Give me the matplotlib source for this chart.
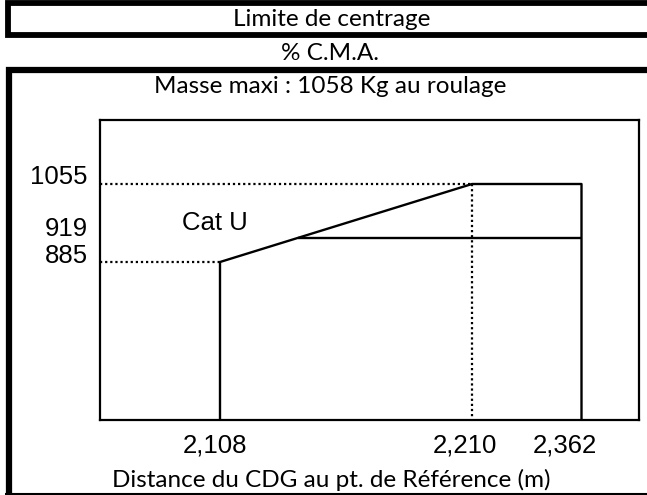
import numpy as np
import matplotlib
matplotlib.use("Agg")
import matplotlib.pyplot as plt
from matplotlib.lines import Line2D

# Données du diagramme de centrage (bras de levier en m, masse en kg)
CG_LIMITS = [2.108, 2.210, 2.362]          # avant, point haut, arrière
CG_LABELS = ["2,108", "2,210", "2,362"]
MASSES = [885, 919, 1055]                  # bas, Cat U, maxi
MASS_LABELS = ["885", "919", "1055"]

TITLE = "Limite de centrage"
SUBTITLE = "% C.M.A."
HEADER = "Masse maxi : 1058 Kg au roulage"
XLABEL = "Distance du CDG au pt. de Référence (m)"
CAT_LABEL = "Cat U"


# Mise en page (pixels de la figure 647x495)
class Layout:
    W, H = 647, 495
    AX_LEFT, AX_RIGHT, AX_TOP, AX_BOTTOM = 100, 639, 120, 420
    # échelle du schéma (non linéaire) : valeur -> pixel dans l'axe
    X_KNOTS = [2.06, 2.108, 2.210, 2.362, 2.44]
    X_PIX = [0, 120, 372, 481.5, 539]
    Y_KNOTS = [540, 885, 919, 1055, 1195]
    Y_PIX = [0, 158, 182, 236, 300]
    XLAB_DX = [-5, -7, -17]
    XLAB_DY = -33
    YLAB_DX = -12
    YLAB_DY = [-1, 2, 0]
    HEAD_FONT = ["Lato", "DejaVu Sans"]
    HEAD_SIZE = 17.5
    CHART_FONT = ["Liberation Sans", "DejaVu Sans"]
    CHART_SIZE = 18.5


def fx(x):
    return np.interp(x, Layout.X_KNOTS, Layout.X_PIX)


def fx_inv(p):
    return np.interp(p, Layout.X_PIX, Layout.X_KNOTS)


def fy(y):
    return np.interp(y, Layout.Y_KNOTS, Layout.Y_PIX)


def fy_inv(p):
    return np.interp(p, Layout.Y_PIX, Layout.Y_KNOTS)


def fig_xy(px, py):
    # pixels (origine en haut à gauche) -> fraction de figure
    return px / Layout.W, 1 - py / Layout.H


fig = plt.figure(figsize=(Layout.W / 100, Layout.H / 100), dpi=100)
fig.patch.set_facecolor("white")

# cadres extérieurs
def frame_line(xs, ys, lw):
    pts = [fig_xy(x, y) for x, y in zip(xs, ys)]
    fig.add_artist(Line2D([p[0] for p in pts], [p[1] for p in pts],
                          color="black", lw=lw, solid_capstyle="butt",
                          solid_joinstyle="miter", transform=fig.transFigure))

frame_line([700, 8, 8, 700], [2.5, 2.5, 35, 35], 4.2)
frame_line([700, 8.5, 8.5], [70, 70, 500], 4.5)
frame_line([5, 700], [494, 494], 1.5)

# textes d'en-tête
def fig_text(px, py, s):
    x, y = fig_xy(px, py)
    fig.text(x, y, s, ha="center", va="baseline", color="black",
             fontfamily=Layout.HEAD_FONT, fontsize=Layout.HEAD_SIZE)

fig_text(332, 26, TITLE)
fig_text(330, 60, SUBTITLE)
fig_text(330, 93, HEADER)
fig_text(331, 487, XLABEL)

# zone du diagramme
l, b = fig_xy(Layout.AX_LEFT, Layout.AX_BOTTOM)
r, t = fig_xy(Layout.AX_RIGHT, Layout.AX_TOP)
ax = fig.add_axes([l, b, r - l, t - b])
ax.set_xscale("function", functions=(fx, fx_inv))
ax.set_yscale("function", functions=(fy, fy_inv))
ax.set_xlim(Layout.X_KNOTS[0], Layout.X_KNOTS[-1])
ax.set_ylim(Layout.Y_KNOTS[0], Layout.Y_KNOTS[-1])
ax.set_xticks([])
ax.set_yticks([])
ax.minorticks_off()
for sp in ax.spines.values():
    sp.set_linewidth(1.6)

x_av, x_mid, x_ar = CG_LIMITS
m_low, m_cat, m_max = MASSES
y0 = ax.get_ylim()[0]
x0 = ax.get_xlim()[0]

# point où la limite Cat U rejoint la pente
t_cat = (fy(m_cat) - fy(m_low)) / (fy(m_max) - fy(m_low))
x_cat = fx_inv(fx(x_av) + t_cat * (fx(x_mid) - fx(x_av)))

solid = dict(color="black", lw=1.7, solid_capstyle="butt")
dotted = dict(color="black", lw=1.6, linestyle=(0, (1, 1.3)))

ax.plot([x_av, x_av, x_mid, x_ar, x_ar], [y0, m_low, m_max, m_max, y0], **solid)
ax.plot([x_cat, x_ar], [m_cat, m_cat], **solid)
ax.plot([x0, x_mid], [m_max, m_max], **dotted)
ax.plot([x0, x_av], [m_low, m_low], **dotted)
ax.plot([x_mid, x_mid], [m_max, y0], **dotted)

chart_font = dict(fontfamily=Layout.CHART_FONT, fontsize=Layout.CHART_SIZE, color="black")

for v, s, dx in zip(CG_LIMITS, CG_LABELS, Layout.XLAB_DX):
    ax.annotate(s, xy=(v, 0), xycoords=("data", "axes fraction"),
                xytext=(dx, Layout.XLAB_DY), textcoords="offset pixels",
                ha="center", va="baseline", annotation_clip=False, **chart_font)

for v, s, dy in zip(MASSES, MASS_LABELS, Layout.YLAB_DY):
    ax.annotate(s, xy=(0, v), xycoords=("axes fraction", "data"),
                xytext=(Layout.YLAB_DX, dy), textcoords="offset pixels",
                ha="right", va="baseline", annotation_clip=False, **chart_font)

ax.text((215 - Layout.AX_LEFT) / (Layout.AX_RIGHT - Layout.AX_LEFT),
        (Layout.AX_BOTTOM - 230) / (Layout.AX_BOTTOM - Layout.AX_TOP),
        CAT_LABEL, transform=ax.transAxes, ha="center", va="baseline", **chart_font)

fig.savefig("out.png", dpi=100)
